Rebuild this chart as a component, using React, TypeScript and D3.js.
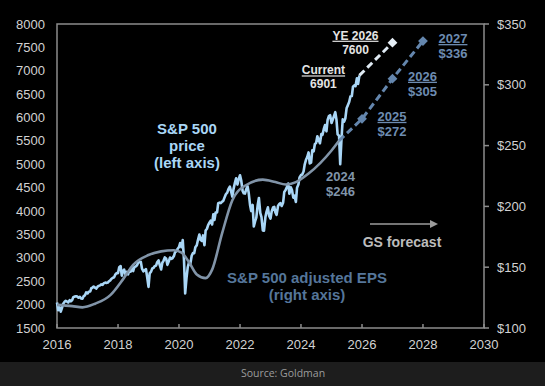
import React, { useEffect, useRef } from 'react';
import * as d3 from 'd3';

// S&P 500 level, on the 1st and 15th of each month
const price2016 = [2044, 1880, 1940, 1850, 1932, 2020, 2060, 2080, 2065, 2047, 2097, 2071, 2099, 2161, 2174, 2180, 2171, 2147, 2168, 2133, 2126, 2180, 2199, 2262];
const price2017 = [2239, 2275, 2279, 2350, 2364, 2385, 2363, 2342, 2384, 2400, 2412, 2433, 2423, 2459, 2470, 2465, 2472, 2500, 2519, 2553, 2575, 2585, 2648, 2675];
const price2018 = [2674, 2800, 2824, 2620, 2714, 2750, 2641, 2700, 2648, 2720, 2705, 2780, 2718, 2800, 2816, 2840, 2902, 2905, 2914, 2770, 2712, 2730, 2760, 2600];
const price2019 = [2380, 2670, 2704, 2775, 2784, 2822, 2834, 2905, 2946, 2850, 2752, 2890, 2942, 3010, 2980, 2850, 2926, 3007, 2977, 2990, 3038, 3120, 3141, 3190];
const price2020 = [3231, 3316, 3226, 3380, 2954, 2240, 2585, 2800, 2912, 2860, 3044, 3100, 3100, 3226, 3271, 3380, 3500, 3385, 3363, 3480, 3270, 3585, 3622, 3700];
const price2021 = [3756, 3795, 3714, 3930, 3811, 3970, 3973, 4170, 4181, 4170, 4204, 4220, 4298, 4360, 4395, 4470, 4523, 4430, 4308, 4470, 4605, 4700, 4567, 4670];
const price2022 = [4766, 4660, 4430, 4380, 4374, 4460, 4530, 4390, 4132, 4000, 4132, 3670, 3785, 3860, 4130, 4280, 3955, 3870, 3586, 3580, 3872, 3990, 4080, 3900];
const price2023 = [3840, 3990, 4077, 4090, 3970, 3920, 4109, 4150, 4169, 4110, 4180, 4410, 4450, 4510, 4589, 4370, 4508, 4450, 4288, 4330, 4194, 4500, 4568, 4720];
const price2024 = [4770, 4780, 4846, 5000, 5096, 5150, 5254, 5020, 5036, 5300, 5278, 5430, 5460, 5600, 5522, 5450, 5648, 5630, 5762, 5840, 5705, 5950, 6032, 6050];
const price2025 = [5882, 5950, 6041, 6115, 5955, 5640, 5612, 5000, 5569, 5960, 5912, 5980, 6205, 6260, 6339, 6450, 6460, 6660, 6688, 6670, 6840, 6720];
const priceYears = [2016, 2017, 2018, 2019, 2020, 2021, 2022, 2023, 2024, 2025];

const currentDate = '2025-12-01';
const currentPrice = 6901;
const targetDate = '2027-01-01';
const targetPrice = 7600;

// adjusted EPS (right axis)
const epsDates = ['2016-01-01', '2016-07-01', '2016-11-01', '2017-04-01', '2017-10-01', '2018-03-01', '2018-07-01', '2019-01-01', '2019-06-01', '2019-11-01', '2020-02-01', '2020-05-01', '2020-08-01', '2020-11-15', '2021-02-01', '2021-06-01', '2021-10-01', '2022-03-01', '2022-10-01', '2023-03-01', '2023-07-01', '2023-11-01', '2024-04-01', '2025-01-01', '2025-04-01'];
const epsValues = [119, 118, 117, 120, 127, 140, 152, 160, 163, 164, 162, 154, 144, 141, 148, 178, 205, 217, 222, 220, 218, 220, 227, 246, 254];

const epsForecastDates = ['2025-04-01', '2026-01-01', '2027-01-01', '2028-01-01'];
const epsForecastValues = [254, 272, 305, 336];
const epsForecastYears = ['', '2025', '2026', '2027'];

const leftTicks = [1500, 2000, 2500, 3000, 3500, 4000, 4500, 5000, 5500, 6000, 6500, 7000, 7500, 8000];
const rightTicks = [100, 150, 200, 250, 300, 350];
const yearTicks = [2016, 2018, 2020, 2022, 2024, 2026, 2028, 2030];

const FONT = 'Arial, "Liberation Sans", sans-serif';

const App = () => {
  const ref = useRef<SVGSVGElement>(null);

  useEffect(() => {
    const svg = d3.select(ref.current);
    svg.selectAll('*').remove();
    const W = 545;
    const H = 386;
    const left = 57, right = 484, top = 24, bottom = 328;
    const parse = d3.timeParse('%Y-%m-%d');

    const x = d3.scaleTime()
      .domain([new Date(2016, 0, 1), new Date(2030, 0, 1)])
      .range([left, right]);
    const yL = d3.scaleLinear().domain([1500, 8000]).range([bottom, top]);
    const yR = d3.scaleLinear().domain([100, 350]).range([bottom, top]);

    // backgrounds
    svg.append('rect').attr('width', W).attr('height', 362).attr('fill', '#000');
    svg.append('rect').attr('y', 362).attr('width', W).attr('height', H - 362).attr('fill', '#1d1d1d');
    svg.append('text')
      .attr('x', 283).attr('y', 377)
      .attr('text-anchor', 'middle')
      .attr('font-family', '"Open Sans", sans-serif')
      .attr('font-size', 10.5)
      .attr('fill', '#9c9c9c')
      .text('Source: Goldman');

    // frame
    const frame = svg.append('g').attr('stroke', '#8c8c8c').attr('stroke-width', 1.5).attr('fill', 'none');
    frame.append('rect').attr('x', left).attr('y', top).attr('width', right - left).attr('height', bottom - top);

    // axis ticks
    frame.selectAll('line.xt')
      .data(yearTicks)
      .enter().append('line')
      .attr('x1', d => x(new Date(d, 0, 1))).attr('x2', d => x(new Date(d, 0, 1)))
      .attr('y1', bottom).attr('y2', bottom - 4);
    frame.selectAll('line.rt')
      .data(rightTicks)
      .enter().append('line')
      .attr('x1', right).attr('x2', right + 5)
      .attr('y1', d => yR(d)).attr('y2', d => yR(d));

    const labels = svg.append('g').attr('font-family', FONT).attr('font-size', 13).attr('fill', '#d2d2d2');
    labels.selectAll('text.l')
      .data(leftTicks)
      .enter().append('text')
      .attr('x', 45).attr('y', d => yL(d) + 4.5)
      .attr('text-anchor', 'end')
      .text(d => d);
    labels.selectAll('text.r')
      .data(rightTicks)
      .enter().append('text')
      .attr('x', 497).attr('y', d => yR(d) + 4.5)
      .text(d => `$${d}`);
    labels.selectAll('text.x')
      .data(yearTicks)
      .enter().append('text')
      .attr('x', d => x(new Date(d, 0, 1))).attr('y', 349)
      .attr('text-anchor', 'middle')
      .text(d => d);

    // price series
    const priceArrays = [price2016, price2017, price2018, price2019, price2020, price2021, price2022, price2023, price2024, price2025];
    const price: { date: Date; value: number }[] = [];
    priceArrays.forEach((arr, k) => {
      arr.forEach((v, i) => {
        price.push({ date: new Date(priceYears[k], Math.floor(i / 2), i % 2 ? 15 : 1), value: v });
      });
    });
    price.push({ date: parse(currentDate) as Date, value: currentPrice });

    const priceLine = d3.line<{ date: Date; value: number }>()
      .x(d => x(d.date))
      .y(d => yL(d.value));

    svg.append('path')
      .datum(price)
      .attr('d', priceLine)
      .attr('fill', 'none')
      .attr('stroke', '#a9d6f6')
      .attr('stroke-width', 2.6)
      .attr('stroke-linejoin', 'round');

    // EPS series
    const eps = epsDates.map((d, i) => ({ date: parse(d) as Date, value: epsValues[i] }));
    const epsLine = d3.line<{ date: Date; value: number }>()
      .x(d => x(d.date))
      .y(d => yR(d.value))
      .curve(d3.curveMonotoneX);
    svg.append('path')
      .datum(eps)
      .attr('d', epsLine)
      .attr('fill', 'none')
      .attr('stroke', '#8194a8')
      .attr('stroke-width', 2.6);

    // forecasts
    const epsF = epsForecastDates.map((d, i) => ({ date: parse(d) as Date, value: epsForecastValues[i] }));
    svg.append('path')
      .datum(epsF)
      .attr('d', d3.line<{ date: Date; value: number }>().x(d => x(d.date)).y(d => yR(d.value)))
      .attr('fill', 'none')
      .attr('stroke', '#6486ad')
      .attr('stroke-width', 3)
      .attr('stroke-dasharray', '7,4');

    const priceF = [
      { date: parse(currentDate) as Date, value: currentPrice },
      { date: parse(targetDate) as Date, value: targetPrice },
    ];
    svg.append('path')
      .datum(priceF)
      .attr('d', d3.line<{ date: Date; value: number }>().x(d => x(d.date)).y(d => yL(d.value)))
      .attr('fill', 'none')
      .attr('stroke', '#dfeaf3')
      .attr('stroke-width', 3)
      .attr('stroke-dasharray', '7,4');

    const diamond = d3.symbol(d3.symbolSquare, 48);
    svg.selectAll('path.dm')
      .data(epsF.slice(1))
      .enter().append('path')
      .attr('d', diamond)
      .attr('transform', d => `translate(${x(d.date)},${yR(d.value)}) rotate(45)`)
      .attr('fill', '#6486ad');
    svg.append('path')
      .attr('d', diamond)
      .attr('transform', `translate(${x(priceF[1].date)},${yL(targetPrice)}) rotate(45)`)
      .attr('fill', '#e6eef6');

    // annotations
    const note = (tx: number, ty: number, lines: string[], color: string, size: number, underline = false) => {
      const t = svg.append('text')
        .attr('font-family', FONT)
        .attr('font-weight', 'bold')
        .attr('font-size', size)
        .attr('fill', color)
        .attr('text-anchor', 'middle');
      lines.forEach((s, i) => {
        t.append('tspan')
          .attr('x', tx)
          .attr('y', ty + i * (size + 2))
          .style('text-decoration', underline && i === 0 ? 'underline' : 'none')
          .text(s);
      });
    };

    const tx = x(parse(targetDate) as Date);
    const ty = yL(targetPrice);
    note(tx - 37, ty - 3, ['YE 2026', String(targetPrice)], '#e4e4e4', 12, true);
    const cx = x(parse(currentDate) as Date);
    const cy = yL(currentPrice);
    note(cx - 36, cy - 1, ['Current', String(currentPrice)], '#e4e4e4', 12, true);

    epsF.forEach((d, i) => {
      if (!epsForecastYears[i]) return;
      note(x(d.date) + 30, yR(d.value) + 2, [epsForecastYears[i], `$${d.value}`], '#6d8cb1', 13, true);
    });
    const e24 = eps[eps.length - 2];
    note(x(e24.date) + 9, yR(e24.value) + 31, ['2024', `$${e24.value}`], '#8095aa', 13);

    note(187, 134, ['S&P 500', 'price', '(left axis)'], '#a9d6f6', 15);
    note(307, 283, ['S&P 500 adjusted EPS', '(right axis)'], '#55769a', 15);
    note(402, 247, ['GS forecast'], '#bcbcbc', 14);

    svg.append('line')
      .attr('x1', 370).attr('x2', 432).attr('y1', 224).attr('y2', 224)
      .attr('stroke', '#9c9c9c').attr('stroke-width', 1.5);
    svg.append('path')
      .attr('d', 'M438,224 L430,220 L430,228 Z')
      .attr('fill', '#9c9c9c');
  }, []);

  return (
    <svg ref={ref} width={545} height={386} style={{ position: 'absolute', left: 0, top: 0, display: 'block' }} />
  );
};

export default App;
